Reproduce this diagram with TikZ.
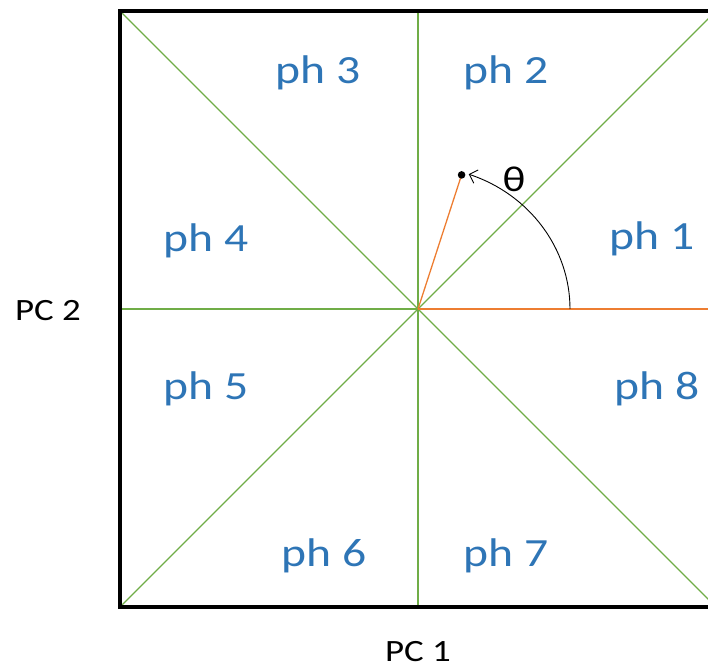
\documentclass[tikz,border=0pt]{standalone}
\usepackage{fontspec}
\setmainfont{Carlito}
\usetikzlibrary{arrows.meta,calc}
\tikzset{>={Straight Barb[length=7pt,width=14pt]}}
\definecolor{phcol}{RGB}{46,117,182}
\definecolor{sepcol}{RGB}{112,173,71}
\definecolor{vcol}{RGB}{237,125,49}
\tikzstyle{sepline}=[sepcol,line width=1.3]
\tikzstyle{phlabel}=[phcol,xscale=1.19,font=\fontsize{40}{42}\selectfont]
\tikzstyle{pclabel}=[xscale=1.19,font=\fontsize{31}{33}\selectfont]
\def\R{298} % half side of the square

\begin{document}
\begin{tikzpicture}[x=1pt,y=-1pt]
  \useasboundingbox (0,0) rectangle (708,671);
  \coordinate (O) at (418,309);
  \begin{scope}
    \clip (0,0) rectangle (708,671);
    % phase sectors
    \draw[sepline] (O) ++(-\R,-\R) coordinate (tl) -- ++(2*\R,2*\R) coordinate (br);
    \draw[sepline] (O) ++(-\R,\R) coordinate (bl) -- ++(2*\R,-2*\R) coordinate (tr);
    \draw[sepline] (O) ++(0,-\R) coordinate (t) -- ++(0,2*\R) coordinate (b);
    \draw[sepline] (O) ++(-\R,0) coordinate (l) -- (O);
    \draw[line width=3.5] (tl) rectangle (br);
    % vector and angle
    \coordinate (P) at ($(O)+(-72:141)$);
    \draw[vcol,line width=1.3] (O) -- ++(\R,0);
    \draw[vcol,line width=1.3] (O) -- (P);
    \fill (P) circle(3.8);
    \draw[->,line width=0.9] ($(O)+(152,0)$)
      arc[start angle=0,end angle=-70.5,x radius=152,y radius=143];
  \end{scope}
  \node (theta) [pclabel,font=\fontsize{36}{38}\selectfont] at (514,179) {θ};
  \node (ph1) [phlabel] at (652,239) {ph 1};
  \node (ph2) [phlabel] at (506,73) {ph 2};
  \node (ph3) [phlabel] at (318,73) {ph 3};
  \node (ph4) [phlabel] at (206,241) {ph 4};
  \node (ph5) [phlabel] at (206,389) {ph 5};
  \node (ph6) [phlabel] at (324,556) {ph 6};
  \node (ph7) [phlabel] at (506,556) {ph 7};
  \node (ph8) [phlabel] at (657,389) {ph 8};
  \node (pc2) [pclabel] at (48,311) {PC 2};
  \node (pc1) [pclabel] at (418,652) {PC 1};
\end{tikzpicture}
\end{document}
